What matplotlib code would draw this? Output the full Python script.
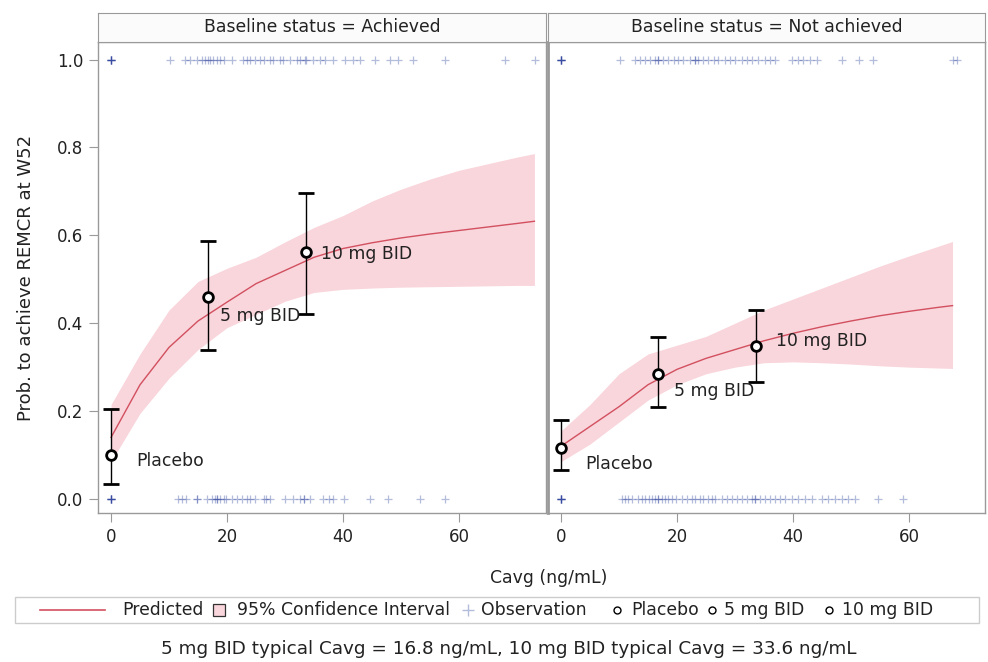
import matplotlib
matplotlib.use("Agg")
import matplotlib.pyplot as plt
from matplotlib.lines import Line2D
from matplotlib.patches import Rectangle

plt.rcParams['font.family'] = ['DejaVu Sans']

# --- model predictions (Cavg grid, predicted prob., 95% CI) ---
ach_x = [0, 5, 10, 15, 20, 25, 30, 35, 40, 45, 50, 55, 60, 65, 70, 73]
ach_pred = [0.14, 0.26, 0.345, 0.405, 0.448, 0.49, 0.52, 0.55, 0.57, 0.583,
            0.594, 0.603, 0.611, 0.619, 0.627, 0.632]
ach_upper = [0.215, 0.33, 0.43, 0.495, 0.525, 0.55, 0.585, 0.618, 0.645, 0.678,
             0.705, 0.728, 0.748, 0.763, 0.778, 0.786]
ach_lower = [0.085, 0.195, 0.275, 0.34, 0.39, 0.42, 0.45, 0.47, 0.477, 0.48,
             0.482, 0.483, 0.484, 0.485, 0.486, 0.486]

not_x = [0, 5, 10, 15, 20, 25, 30, 35, 40, 45, 50, 55, 60, 65, 67.5]
not_pred = [0.12, 0.165, 0.21, 0.26, 0.295, 0.32, 0.34, 0.36, 0.377, 0.392,
            0.405, 0.417, 0.427, 0.436, 0.44]
not_upper = [0.155, 0.215, 0.285, 0.33, 0.35, 0.37, 0.4, 0.43, 0.455, 0.48,
             0.505, 0.53, 0.553, 0.575, 0.586]
not_lower = [0.085, 0.125, 0.175, 0.225, 0.26, 0.285, 0.3, 0.31, 0.312, 0.31,
             0.307, 0.303, 0.3, 0.298, 0.297]

# --- observed response rate by dose group (Cavg, rate, 95% CI) ---
groups = ['Placebo', '5 mg BID', '10 mg BID']
group_cavg = [0, 16.8, 33.6]
ach_rate = [0.10, 0.46, 0.563]
ach_rate_lo = [0.035, 0.338, 0.422]
ach_rate_hi = [0.205, 0.587, 0.697]
not_rate = [0.115, 0.285, 0.347]
not_rate_lo = [0.066, 0.21, 0.267]
not_rate_hi = [0.18, 0.368, 0.43]

# where the dose-group text sits (data units)
ach_lab_x = [4.3, 18.8, 36.2]
ach_lab_y = [0.087, 0.416, 0.557]
not_lab_x = [4.1, 19.5, 37.1]
not_lab_y = [0.08, 0.245, 0.36]

# --- individual observations (Cavg) ---
ach_obs1 = [0] * 6 + [10.2, 12.8, 13.6, 14.8, 15.6, 16.2, 16.8, 17.1, 17.6, 18.2,
                      18.8, 19.4, 20.8, 22.8, 23.4, 24.0, 24.8, 25.7, 26.3, 27.4,
                      28.0, 29.1, 29.7, 30.9, 32.0, 32.6, 33.4, 33.6, 34.9, 36.0,
                      36.9, 38.3, 40.3, 41.8, 42.9, 45.5, 48.1, 49.5, 52.1, 57.6,
                      67.9, 73.1]
ach_obs0 = [0] * 6 + [11.6, 12.2, 13.0, 14.8, 14.8, 16.5, 17.4, 17.9, 18.2, 18.2,
                      18.8, 19.4, 19.9, 20.8, 21.7, 22.5, 23.4, 24.0, 24.8, 26.3,
                      26.8, 27.4, 30.0, 31.4, 32.6, 33.2, 33.2, 34.3, 36.6, 37.5,
                      38.3, 40.1, 44.7, 47.8, 53.3, 57.6]
not_obs1 = [0] * 6 + [10.2, 12.8, 13.6, 14.5, 15.3, 16.2, 16.8, 16.8, 17.6, 18.5,
                      19.4, 20.2, 21.1, 22.2, 23.1, 23.1, 23.7, 24.5, 25.4, 26.3,
                      27.1, 28.3, 29.1, 30.0, 31.2, 32.0, 32.9, 34.0, 35.2, 36.0,
                      36.9, 39.8, 40.9, 41.8, 42.9, 44.1, 48.4, 51.3, 53.8, 67.6,
                      68.2]
not_obs0 = [0] * 6 + [10.5, 11.0, 11.6, 12.2, 13.3, 13.9, 14.5, 15.1, 15.6, 16.2,
                      16.8, 16.8, 17.4, 17.9, 18.5, 19.1, 19.9, 20.8, 21.7, 22.5,
                      23.1, 24.0, 24.5, 25.4, 26.0, 26.6, 27.7, 28.6, 29.4, 30.3,
                      31.2, 32.0, 32.9, 33.4, 33.4, 34.3, 35.2, 36.0, 36.9, 37.8,
                      38.6, 39.8, 40.9, 42.1, 43.2, 45.0, 46.1, 47.2, 48.4, 49.5,
                      50.7, 54.7, 59.0]

panels = [
    dict(title='Baseline status = Achieved', x=ach_x, pred=ach_pred,
         lo=ach_lower, hi=ach_upper, rate=ach_rate, rlo=ach_rate_lo,
         rhi=ach_rate_hi, lx=ach_lab_x, ly=ach_lab_y, obs0=ach_obs0,
         obs1=ach_obs1, rect=[98, 448], xmax=75.0),
    dict(title='Baseline status = Not achieved', x=not_x, pred=not_pred,
         lo=not_lower, hi=not_upper, rate=not_rate, rlo=not_rate_lo,
         rhi=not_rate_hi, lx=not_lab_x, ly=not_lab_y, obs0=not_obs0,
         obs1=not_obs1, rect=[548, 437], xmax=73.1),
]

W, H = 988, 662
fig = plt.figure(figsize=(W / 100, H / 100), dpi=100)

band_col = '#f9d5dc'
line_col = '#d2505f'
obs_col = '#2a3f9c'
frame_col = '#9a9a9a'
txt_col = '#222222'
fs = 12.4

ax_top, ax_bot = 42, 513
head_top = 13


def fx(px):
    return px / W


def fy(py):
    return 1 - py / H


for i, p in enumerate(panels):
    left, width = p['rect']
    ax = fig.add_axes([fx(left), fy(ax_bot), width / W, (ax_bot - ax_top) / H])

    ax.fill_between(p['x'], p['lo'], p['hi'], color=band_col, lw=0, zorder=1)
    ax.plot(p['x'], p['pred'], color=line_col, lw=1.0, zorder=2)

    ax.plot(p['obs1'], [1.0] * len(p['obs1']), '+', color=obs_col, alpha=0.35,
            ms=6, mew=0.9, zorder=3)
    ax.plot(p['obs0'], [0.0] * len(p['obs0']), '+', color=obs_col, alpha=0.35,
            ms=6, mew=0.9, zorder=3)

    yerr = [[r - l for r, l in zip(p['rate'], p['rlo'])],
            [h - r for r, h in zip(p['rate'], p['rhi'])]]
    ax.errorbar(group_cavg, p['rate'], yerr=yerr, fmt='o', mfc='white',
                mec='black', mew=2.0, ms=7, ecolor='black', elinewidth=1.0,
                capsize=6, capthick=1.0, zorder=5)
    for g, lx, ly in zip(groups, p['lx'], p['ly']):
        ax.text(lx, ly, g, fontsize=fs, color=txt_col, va='center', ha='left',
                zorder=6)

    ax.set_xlim(-2.25, p['xmax'])
    ax.set_ylim(-0.032, 1.04)
    ax.set_xticks([0, 20, 40, 60])
    ax.set_yticks([0.0, 0.2, 0.4, 0.6, 0.8, 1.0])
    ax.tick_params(direction='out', length=6.5, color=frame_col, labelsize=12,
                   labelcolor=txt_col, pad=4)
    for s in ax.spines.values():
        s.set_color(frame_col)
        s.set_linewidth(1.0)
    if i == 0:
        ax.yaxis.set_major_formatter(plt.FormatStrFormatter('%.1f'))
        ax.set_ylabel('Prob. to achieve REMCR at W52', fontsize=13,
                      color=txt_col, labelpad=16)
    else:
        ax.tick_params(axis='y', left=False, labelleft=False)
        ax.spines['left'].set_linewidth(2.0)

    # panel header strip
    hax = fig.add_axes([fx(left), fy(ax_top), width / W, (ax_top - head_top) / H])
    hax.set_facecolor('#fbfbfb')
    hax.set_xticks([])
    hax.set_yticks([])
    for s in hax.spines.values():
        s.set_color(frame_col)
    hax.text(0.5, 0.5, p['title'], ha='center', va='center', fontsize=fs,
             color=txt_col, transform=hax.transAxes)

fig.text(fx(549), fy(578), 'Cavg (ng/mL)', ha='center', va='center',
         fontsize=fs, color=txt_col)

# legend, laid out by hand so the line sample can be longer than the others
leg_y = fy(610)
fig.add_artist(Rectangle((fx(15), fy(623)), fx(979) - fx(15), fy(597) - fy(623),
                         transform=fig.transFigure, fill=False,
                         edgecolor='#cccccc', lw=1.0))
fig.add_artist(Line2D([fx(40), fx(105)], [leg_y, leg_y], color=line_col, lw=1.2,
                      transform=fig.transFigure))
fig.add_artist(Rectangle((fx(213), fy(616)), fx(12), fy(604) - fy(616),
                         transform=fig.transFigure, facecolor=band_col,
                         edgecolor='#333333', lw=0.9))
fig.add_artist(Line2D([fx(468)], [leg_y], ls='', marker='+', color=obs_col,
                      alpha=0.35, ms=9, mew=1.0, transform=fig.transFigure))
for cx in [617, 712, 829]:
    fig.add_artist(Line2D([fx(cx)], [leg_y], ls='', marker='o', mfc='white',
                          mec='black', ms=5, mew=1.0, transform=fig.transFigure))
leg_labels = ['Predicted', '95% Confidence Interval', 'Observation'] + groups
leg_text_x = [122, 237, 481, 631, 724, 842]
for lab, tx in zip(leg_labels, leg_text_x):
    fig.text(fx(tx), leg_y, lab, ha='left', va='center', fontsize=fs,
             color=txt_col)

fig.text(fx(509), fy(649),
         '5 mg BID typical Cavg = 16.8 ng/mL, 10 mg BID typical Cavg = 33.6 ng/mL',
         ha='center', va='center', fontsize=13.2, color=txt_col)

fig.savefig('out.png', dpi=100)
